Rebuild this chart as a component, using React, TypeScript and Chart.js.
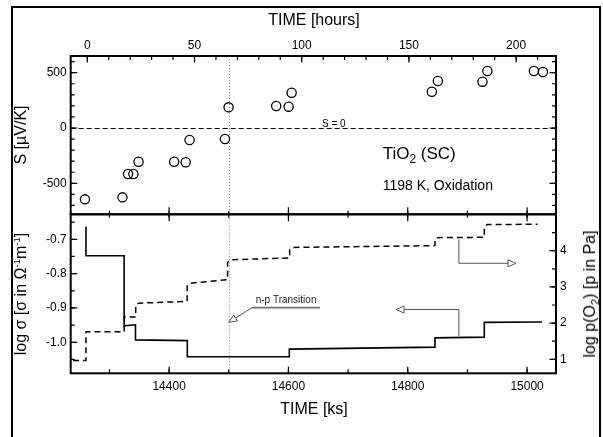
import React, { useEffect, useRef } from "react";
import { Chart, registerables } from "chart.js";

Chart.register(...registerables);

const FONT = "'Liberation Sans', Arial, Helvetica, sans-serif";

// ---------- data ----------
// Top panel: Seebeck coefficient S [µV/K] vs. time [hours]
const seebeckHours = [-1.1, 16.4, 19.0, 21.5, 23.9, 40.5, 45.9, 47.7, 64.2, 65.9, 88.1, 93.9, 95.3, 160.7, 163.5, 184.3, 186.6, 208.3, 212.5];
const seebeckValues = [-645, -627, -416, -416, -305, -305, -310, -108, -99, 187, 199, 193, 319, 328, 425, 419, 515, 515, 506];

// Bottom panel: log sigma (solid, left axis) vs. time [ks]
const sigmaKs = [14260.6, 14260.6, 14324.6, 14324.6, 14343.6, 14343.6, 14430.5, 14430.5, 14601.5, 14601.5, 14845.6, 14845.6, 14928.3, 14928.3, 15025];
const sigmaLog = [-0.663, -0.748, -0.748, -0.952, -0.949, -0.993, -0.995, -1.042, -1.042, -1.020, -1.014, -0.987, -0.985, -0.942, -0.941];

// Bottom panel: log p(O2) (dashed, right axis) vs. time [ks]
const po2Ks = [14239, 14260.6, 14260.6, 14324.6, 14324.6, 14344, 14344, 14349, 14430.2, 14430.2, 14435, 14498, 14498, 14503, 14602, 14602, 14608, 14845.6, 14845.6, 14850, 14928.3, 14928.3, 14933, 15017.7];
const po2Log = [0.97, 0.97, 1.76, 1.76, 2.17, 2.17, 2.50, 2.55, 2.60, 3.02, 3.10, 3.20, 3.68, 3.75, 3.80, 4.02, 4.09, 4.14, 4.30, 4.36, 4.37, 4.66, 4.72, 4.73];

const transitionKs = 14500;

// ---------- axes ----------
const hourRange = [-7.74, 218.6];
const ksRange = [14235, 15048.5];
const seebeckRange = [-780, 651];
const sigmaRange = [-1.0903, -0.6272];
const po2Range = [0.613, 5.005];

const hourTicks = [0, 50, 100, 150, 200];
const ksTicks = [14400, 14600, 14800, 15000];
const seebeckTicks = [-500, 0, 500];
const sigmaTicks = [-1.0, -0.9, -0.8, -0.7];
const po2Ticks = [1, 2, 3, 4];

const hourMinor = 10;
const ksMinor = 100;
const seebeckMinor = 100;
const sigmaMinor = 0.05;
const po2Minor = 0.5;

// annotation anchors (data units)
const zeroLabelHour = 115;
const npNote = { tipKs: 14500, tipSigma: -0.9418, elbowKs: 14539, elbowSigma: -0.8992, endKs: 14653, textSigma: -0.886 };
const po2Note = { ks: 14885.7, fromP: 4.315, toP: 3.652, tipKs: 14981.4 };
const sigmaNote = { ks: 14885.7, fromS: -0.9817, toS: -0.9045, tipKs: 14780.4 };

// ---------- layout ----------
const W = 603;
const TOP_H = 230;
const BOT_TOP = 200;
const BOT_H = 237;
const PLOT_LEFT = 70.7;
const PLOT_RIGHT = 556;
const PLOT_TOP = 56;
const PLOT_MID = 214.3;
const PLOT_BOTTOM = 373.3;

function minorValues(min: number, max: number, step: number) {
  const out: number[] = [];
  const start = Math.ceil(min / step - 1e-9);
  for (let i = start; i * step <= max + 1e-9; i++) out.push(+(i * step).toFixed(6));
  return out;
}

function hTicks(ctx: CanvasRenderingContext2D, scale: any, y: number, dir: number, values: number[], len: number, both = false) {
  ctx.beginPath();
  for (const v of values) {
    const x = scale.getPixelForValue(v);
    ctx.moveTo(x, both ? y - dir * len : y);
    ctx.lineTo(x, y + dir * len);
  }
  ctx.stroke();
}

function vTicks(ctx: CanvasRenderingContext2D, scale: any, x: number, dir: number, values: number[], len: number) {
  ctx.beginPath();
  for (const v of values) {
    const y = scale.getPixelForValue(v);
    ctx.moveTo(x, y);
    ctx.lineTo(x + dir * len, y);
  }
  ctx.stroke();
}

function openArrowHead(ctx: CanvasRenderingContext2D, tx: number, ty: number, angle: number, len = 8, half = 3.5) {
  const bx = tx - Math.cos(angle) * len;
  const by = ty - Math.sin(angle) * len;
  const px = -Math.sin(angle) * half;
  const py = Math.cos(angle) * half;
  ctx.beginPath();
  ctx.moveTo(tx, ty);
  ctx.lineTo(bx + px, by + py);
  ctx.lineTo(bx - px, by - py);
  ctx.closePath();
  ctx.fillStyle = "#fff";
  ctx.fill();
  ctx.stroke();
}

function dottedTransition(chart: any, scaleId: string) {
  const ctx = chart.ctx;
  const a = chart.chartArea;
  const x = Math.round(chart.scales[scaleId].getPixelForValue(transitionKs)) + 0.5;
  ctx.save();
  ctx.strokeStyle = "#8a8a8a";
  ctx.lineWidth = 1;
  ctx.setLineDash([1, 2]);
  ctx.beginPath();
  ctx.moveTo(x, a.top);
  ctx.lineTo(x, a.bottom);
  ctx.stroke();
  ctx.restore();
}

const topDecor = {
  id: "topDecor",
  beforeDatasetsDraw(chart: any) {
    const ctx = chart.ctx;
    const a = chart.chartArea;
    dottedTransition(chart, "xks");
    const y0 = Math.round(chart.scales.y.getPixelForValue(0)) + 0.5;
    ctx.save();
    ctx.strokeStyle = "#000";
    ctx.lineWidth = 1;
    ctx.setLineDash([5, 3]);
    ctx.beginPath();
    ctx.moveTo(a.left, y0);
    ctx.lineTo(a.right, y0);
    ctx.stroke();
    ctx.setLineDash([]);
    ctx.fillStyle = "#000";
    ctx.font = `10px ${FONT}`;
    ctx.textAlign = "center";
    ctx.textBaseline = "alphabetic";
    ctx.fillText("S = 0", chart.scales.xh.getPixelForValue(zeroLabelHour), y0 - 2);
    ctx.restore();
  },
  afterDraw(chart: any) {
    const ctx = chart.ctx;
    const a = chart.chartArea;
    const { xh, xks, y } = chart.scales;
    ctx.save();
    ctx.strokeStyle = "#000";
    ctx.lineWidth = 1.2;
    hTicks(ctx, xh, a.top, 1, hourTicks, 6.5);
    hTicks(ctx, xh, a.top, 1, minorValues(hourRange[0], hourRange[1], hourMinor), 4);
    hTicks(ctx, xks, a.bottom, -1, ksTicks, 7);
    hTicks(ctx, xks, a.bottom, -1, minorValues(ksRange[0], ksRange[1], ksMinor), 3.5);
    const sMinor = minorValues(seebeckRange[0], seebeckRange[1], seebeckMinor);
    vTicks(ctx, y, a.left, 1, seebeckTicks, 6.5);
    vTicks(ctx, y, a.left, 1, sMinor, 4);
    vTicks(ctx, y, a.right, -1, seebeckTicks, 6.5);
    vTicks(ctx, y, a.right, -1, sMinor, 4);
    ctx.lineWidth = 2;
    ctx.strokeRect(a.left, a.top, a.right - a.left, a.bottom - a.top);
    ctx.restore();
  },
};

const bottomDecor = {
  id: "bottomDecor",
  beforeDatasetsDraw(chart: any) {
    dottedTransition(chart, "x");
  },
  afterDraw(chart: any) {
    const ctx = chart.ctx;
    const a = chart.chartArea;
    const { x, yL, yR } = chart.scales;
    ctx.save();
    // annotations
    ctx.strokeStyle = "#555";
    ctx.lineWidth = 1;
    // n-p transition
    const tipX = x.getPixelForValue(npNote.tipKs);
    const tipY = yL.getPixelForValue(npNote.tipSigma);
    const elX = x.getPixelForValue(npNote.elbowKs);
    const elY = yL.getPixelForValue(npNote.elbowSigma);
    const endX = x.getPixelForValue(npNote.endKs);
    ctx.beginPath();
    ctx.moveTo(elX, elY);
    ctx.lineTo(tipX, tipY);
    ctx.stroke();
    openArrowHead(ctx, tipX, tipY, Math.atan2(tipY - elY, tipX - elX));
    ctx.strokeStyle = "#707070";
    ctx.lineWidth = 1.8;
    ctx.beginPath();
    ctx.moveTo(elX, elY);
    ctx.lineTo(endX, elY);
    ctx.stroke();
    ctx.fillStyle = "#222";
    ctx.font = `10px ${FONT}`;
    ctx.textAlign = "center";
    ctx.textBaseline = "alphabetic";
    ctx.fillText("n-p Transition", (elX + endX) / 2, yL.getPixelForValue(npNote.textSigma));
    // p(O2) arrow -> right axis
    ctx.strokeStyle = "#555";
    ctx.lineWidth = 1;
    const px = x.getPixelForValue(po2Note.ks);
    const py1 = yR.getPixelForValue(po2Note.fromP);
    const py2 = yR.getPixelForValue(po2Note.toP);
    const ptx = x.getPixelForValue(po2Note.tipKs);
    ctx.beginPath();
    ctx.moveTo(px, py1);
    ctx.lineTo(px, py2);
    ctx.lineTo(ptx - 7, py2);
    ctx.stroke();
    openArrowHead(ctx, ptx, py2, 0);
    // sigma arrow -> left axis
    const sx = x.getPixelForValue(sigmaNote.ks);
    const sy1 = yL.getPixelForValue(sigmaNote.fromS);
    const sy2 = yL.getPixelForValue(sigmaNote.toS);
    const stx = x.getPixelForValue(sigmaNote.tipKs);
    ctx.beginPath();
    ctx.moveTo(sx, sy1);
    ctx.lineTo(sx, sy2);
    ctx.lineTo(stx + 7, sy2);
    ctx.stroke();
    openArrowHead(ctx, stx, sy2, Math.PI);

    // ticks
    ctx.strokeStyle = "#000";
    ctx.lineWidth = 1.2;
    const kMinor = minorValues(ksRange[0], ksRange[1], ksMinor);
    hTicks(ctx, x, a.top, 1, ksTicks, 7);
    hTicks(ctx, x, a.top, 1, kMinor, 3.5);
    hTicks(ctx, x, a.bottom, -1, ksTicks, 6.5);
    hTicks(ctx, x, a.bottom, -1, kMinor, 4);
    vTicks(ctx, yL, a.left, 1, sigmaTicks, 6.5);
    vTicks(ctx, yL, a.left, 1, minorValues(sigmaRange[0], sigmaRange[1], sigmaMinor), 4);
    vTicks(ctx, yR, a.right, -1, po2Ticks, 6.5);
    vTicks(ctx, yR, a.right, -1, minorValues(po2Range[0], po2Range[1], po2Minor), 4);
    ctx.lineWidth = 2;
    ctx.strokeRect(a.left, a.top, a.right - a.left, a.bottom - a.top);
    ctx.restore();
  },
};

const tickFont = { family: FONT, size: 12 };

function setTicks(values: number[]) {
  return (scale: any) => {
    scale.ticks = values.map((v) => ({ value: v }));
  };
}

export default function App() {
  const topRef = useRef<HTMLCanvasElement>(null);
  const botRef = useRef<HTMLCanvasElement>(null);

  useEffect(() => {
    const top = new Chart(topRef.current as HTMLCanvasElement, {
      type: "scatter",
      data: {
        datasets: [
          {
            data: seebeckHours.map((h, i) => ({ x: h, y: seebeckValues[i] })),
            xAxisID: "xh",
            yAxisID: "y",
            showLine: false,
            pointRadius: 4.6,
            pointHoverRadius: 4.6,
            pointBorderWidth: 1.3,
            borderColor: "#000",
            backgroundColor: "rgba(255,255,255,0)",
            pointBackgroundColor: "rgba(255,255,255,0)",
          },
        ],
      },
      options: {
        animation: false,
        responsive: false,
        events: [],
        layout: { padding: { top: 0, left: 0, right: W - PLOT_RIGHT, bottom: TOP_H - PLOT_MID } },
        plugins: { legend: { display: false }, tooltip: { enabled: false } },
        scales: {
          xh: {
            type: "linear",
            position: "top",
            min: hourRange[0],
            max: hourRange[1],
            grid: { display: false, drawTicks: false },
            border: { display: false },
            afterBuildTicks: setTicks(hourTicks),
            afterFit: (s: any) => { s.height = PLOT_TOP; },
            ticks: { font: tickFont, color: "#000", padding: 3, maxRotation: 0, callback: (v: any) => String(v) },
          },
          xks: {
            type: "linear",
            position: "bottom",
            display: false,
            min: ksRange[0],
            max: ksRange[1],
          },
          y: {
            type: "linear",
            position: "left",
            min: seebeckRange[0],
            max: seebeckRange[1],
            grid: { display: false, drawTicks: false },
            border: { display: false },
            afterBuildTicks: setTicks(seebeckTicks),
            afterFit: (s: any) => { s.width = PLOT_LEFT; },
            ticks: { font: tickFont, color: "#000", padding: 4, callback: (v: any) => String(v) },
          },
        },
      } as any,
      plugins: [topDecor],
    });

    const bottom = new Chart(botRef.current as HTMLCanvasElement, {
      type: "line",
      data: {
        datasets: [
          {
            data: sigmaKs.map((k, i) => ({ x: k, y: sigmaLog[i] })),
            xAxisID: "x",
            yAxisID: "yL",
            borderColor: "#000",
            borderWidth: 1.6,
            pointRadius: 0,
            tension: 0,
            fill: false,
          },
          {
            data: po2Ks.map((k, i) => ({ x: k, y: po2Log[i] })),
            xAxisID: "x",
            yAxisID: "yR",
            borderColor: "#000",
            borderWidth: 1.5,
            borderDash: [6, 4],
            pointRadius: 0,
            tension: 0,
            fill: false,
          },
        ],
      },
      options: {
        animation: false,
        responsive: false,
        events: [],
        layout: { padding: { top: PLOT_MID - BOT_TOP, left: 0, right: 0, bottom: 0 } },
        plugins: { legend: { display: false }, tooltip: { enabled: false } },
        scales: {
          x: {
            type: "linear",
            position: "bottom",
            min: ksRange[0],
            max: ksRange[1],
            grid: { display: false, drawTicks: false },
            border: { display: false },
            afterBuildTicks: setTicks(ksTicks),
            afterFit: (s: any) => { s.height = BOT_TOP + BOT_H - PLOT_BOTTOM; },
            ticks: { font: tickFont, color: "#000", padding: 6, maxRotation: 0, callback: (v: any) => String(v) },
          },
          yL: {
            type: "linear",
            position: "left",
            min: sigmaRange[0],
            max: sigmaRange[1],
            grid: { display: false, drawTicks: false },
            border: { display: false },
            afterBuildTicks: setTicks(sigmaTicks),
            afterFit: (s: any) => { s.width = PLOT_LEFT; },
            ticks: { font: tickFont, color: "#000", padding: 4, callback: (v: any) => Number(v).toFixed(1) },
          },
          yR: {
            type: "linear",
            position: "right",
            min: po2Range[0],
            max: po2Range[1],
            grid: { display: false, drawTicks: false },
            border: { display: false },
            afterBuildTicks: setTicks(po2Ticks),
            afterFit: (s: any) => { s.width = W - PLOT_RIGHT; },
            ticks: { font: tickFont, color: "#000", padding: 4, callback: (v: any) => String(v) },
          },
        },
      } as any,
      plugins: [bottomDecor],
    });

    return () => {
      top.destroy();
      bottom.destroy();
    };
  }, []);

  const abs: React.CSSProperties = { position: "absolute", whiteSpace: "nowrap", lineHeight: 1, color: "#000" };
  const centered = (cx: number, cy: number, size: number, rotate = false): React.CSSProperties => ({
    ...abs,
    left: cx,
    top: cy,
    fontSize: size,
    transform: rotate ? "translate(-50%, -50%) rotate(-90deg)" : "translate(-50%, -50%)",
  });
  const sub: React.CSSProperties = { fontSize: "0.7em", position: "relative", top: "0.35em" };
  const sup: React.CSSProperties = { fontSize: "0.6em", position: "relative", top: "-0.6em" };

  return (
    <div style={{ position: "absolute", left: 0, top: 0, width: W, height: 437, overflow: "hidden", background: "#fff", fontFamily: FONT }}>
      <div style={{ position: "absolute", left: 11, top: 5.5, width: 590, height: 470, border: "2.5px solid #000", boxSizing: "border-box" }} />
      <canvas ref={topRef} width={W} height={TOP_H} style={{ position: "absolute", left: 0, top: 0, width: W, height: TOP_H }} />
      <canvas ref={botRef} width={W} height={BOT_H} style={{ position: "absolute", left: 0, top: BOT_TOP, width: W, height: BOT_H }} />
      <div style={centered(314, 20, 16)}>TIME [hours]</div>
      <div style={centered(314, 409, 16)}>TIME [ks]</div>
      <div style={centered(21, 135, 16, true)}>S [µV/K]</div>
      <div style={centered(21, 294, 16, true)}>
        log σ [σ in Ω<span style={sup}>-1</span>m<span style={sup}>-1</span>]
      </div>
      <div style={centered(590, 294, 16, true)}>
        log p(O<span style={sub}>2</span>) [p in Pa]
      </div>
      <div style={{ ...abs, left: 382.7, top: 144.5, fontSize: 17 }}>
        TiO<span style={sub}>2</span> (SC)
      </div>
      <div style={{ ...abs, left: 382.7, top: 177.5, fontSize: 14 }}>1198 K, Oxidation</div>
    </div>
  );
}
